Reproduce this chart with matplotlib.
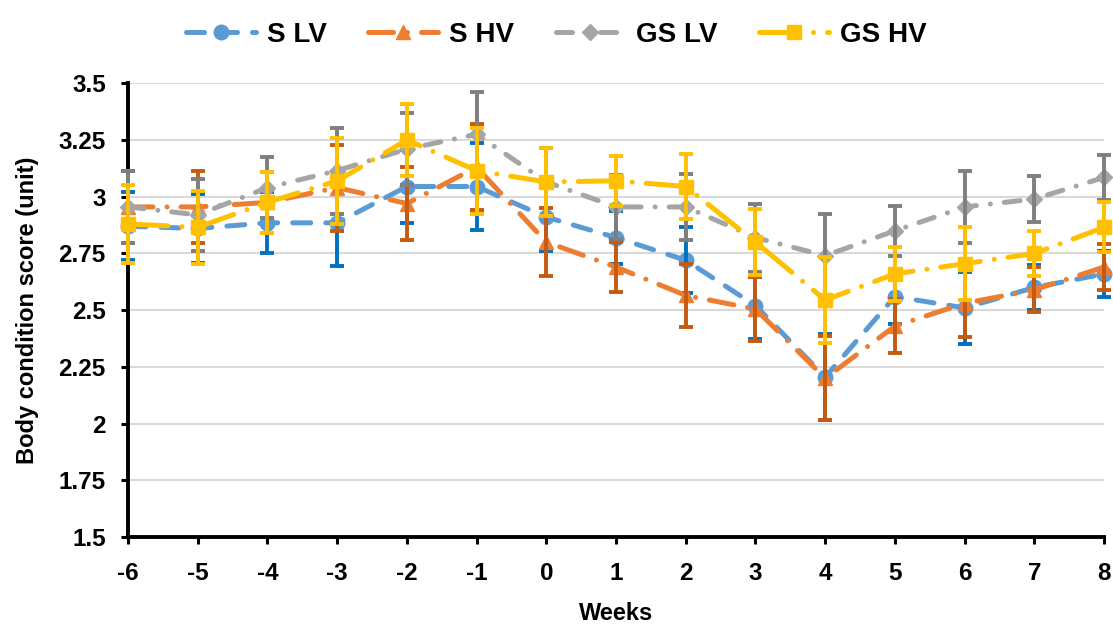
import numpy as np
import matplotlib.pyplot as plt

plt.rcParams['font.family'] = ['Liberation Sans', 'DejaVu Sans']
plt.rcParams['font.weight'] = 'bold'
plt.rcParams['axes.unicode_minus'] = False

weeks = [-6, -5, -4, -3, -2, -1, 0, 1, 2, 3, 4, 5, 6, 7, 8]

s_lv = [2.87, 2.86, 2.885, 2.885, 3.045, 3.045, 2.91, 2.82, 2.72, 2.52, 2.205, 2.56, 2.51, 2.60, 2.66]
s_hv = [2.955, 2.955, 2.975, 3.04, 2.97, 3.13, 2.80, 2.69, 2.565, 2.505, 2.20, 2.43, 2.53, 2.59, 2.69]
gs_lv = [2.955, 2.92, 3.04, 3.115, 3.21, 3.275, 3.065, 2.955, 2.955, 2.82, 2.74, 2.85, 2.955, 2.99, 3.085]
gs_hv = [2.88, 2.865, 2.975, 3.07, 3.25, 3.115, 3.065, 3.07, 3.045, 2.80, 2.545, 2.66, 2.705, 2.75, 2.865]

# error bar half widths per week
s_lv_err = [0.15, 0.15, 0.135, 0.19, 0.16, 0.19, 0.15, 0.115, 0.145, 0.145, 0.19, 0.12, 0.16, 0.10, 0.10]
s_hv_err = [0.16, 0.16, 0.135, 0.19, 0.16, 0.19, 0.15, 0.11, 0.14, 0.14, 0.185, 0.12, 0.15, 0.10, 0.10]
gs_lv_err = [0.16, 0.16, 0.135, 0.19, 0.16, 0.185, 0.15, 0.14, 0.145, 0.15, 0.185, 0.11, 0.16, 0.10, 0.10]
gs_hv_err = [0.17, 0.16, 0.135, 0.19, 0.16, 0.19, 0.15, 0.11, 0.145, 0.145, 0.19, 0.12, 0.16, 0.10, 0.11]

labels = ['S LV', 'S HV', 'GS LV', 'GS HV']
series = [s_lv, s_hv, gs_lv, gs_hv]
errors = [s_lv_err, s_hv_err, gs_lv_err, gs_hv_err]
colors = ['#5B9BD5', '#ED7D31', '#A5A5A5', '#FFC000']
ecolors = ['#0070C0', '#C55A11', '#7F7F7F', '#FFC000']
markers = ['o', '^', 'D', 's']
msizes = [10.5, 10.5, 8.5, 10]
dashes = [(0, (3.6, 3)), (0, (5, 2.8, 0.01, 2.8)), (0, (3.2, 2.8, 0.01, 2.8)), (0, (8, 2.8, 0.01, 2.8))]

fig = plt.figure(figsize=(11.13, 6.26), dpi=100)
ax = fig.add_axes([0.115, 0.142, 0.877, 0.725])

handles = []
for i in range(4):
    ln, = ax.plot(weeks, series[i], color=colors[i], lw=3.6, linestyle=dashes[i],
                  dash_capstyle='round', marker=markers[i], markersize=msizes[i],
                  markeredgecolor=colors[i], label=labels[i], clip_on=False, zorder=3 + 2 * i)
    ax.errorbar(weeks, series[i], yerr=errors[i], fmt='none', ecolor=ecolors[i],
                elinewidth=2.8, capsize=5, capthick=2.8, clip_on=False, zorder=4 + 2 * i)
    handles.append(ln)

ax.set_xlim(-6, 8)
ax.set_ylim(1.5, 3.5)
ax.set_xticks(weeks)
ax.set_xticklabels([str(w) for w in weeks])
yt = [1.5, 1.75, 2, 2.25, 2.5, 2.75, 3, 3.25, 3.5]
ax.set_yticks(yt)
ax.set_yticklabels(['{:g}'.format(v) for v in yt])
ax.tick_params(labelsize=17.5, width=2.2, length=5, direction='out')
ax.tick_params(axis='y', pad=11)
ax.tick_params(axis='x', pad=13)
ax.grid(axis='y', color='#D9D9D9', lw=1.5)
ax.set_axisbelow(True)
for s in ['top', 'right']:
    ax.spines[s].set_visible(False)
for s in ['left', 'bottom']:
    ax.spines[s].set_linewidth(2.8)

ax.set_xlabel('Weeks', fontsize=17, fontweight='bold', labelpad=12)
ax.set_ylabel('Body condition score (unit)', fontsize=17, fontweight='bold', labelpad=14)

fig.legend(handles=handles, loc='upper center', bbox_to_anchor=(0.5, 1.005), ncol=4,
           frameon=False, handlelength=2.5, handletextpad=0.4, columnspacing=1.5,
           prop={'weight': 'bold', 'size': 20})

fig.savefig('out.png', dpi=100)
